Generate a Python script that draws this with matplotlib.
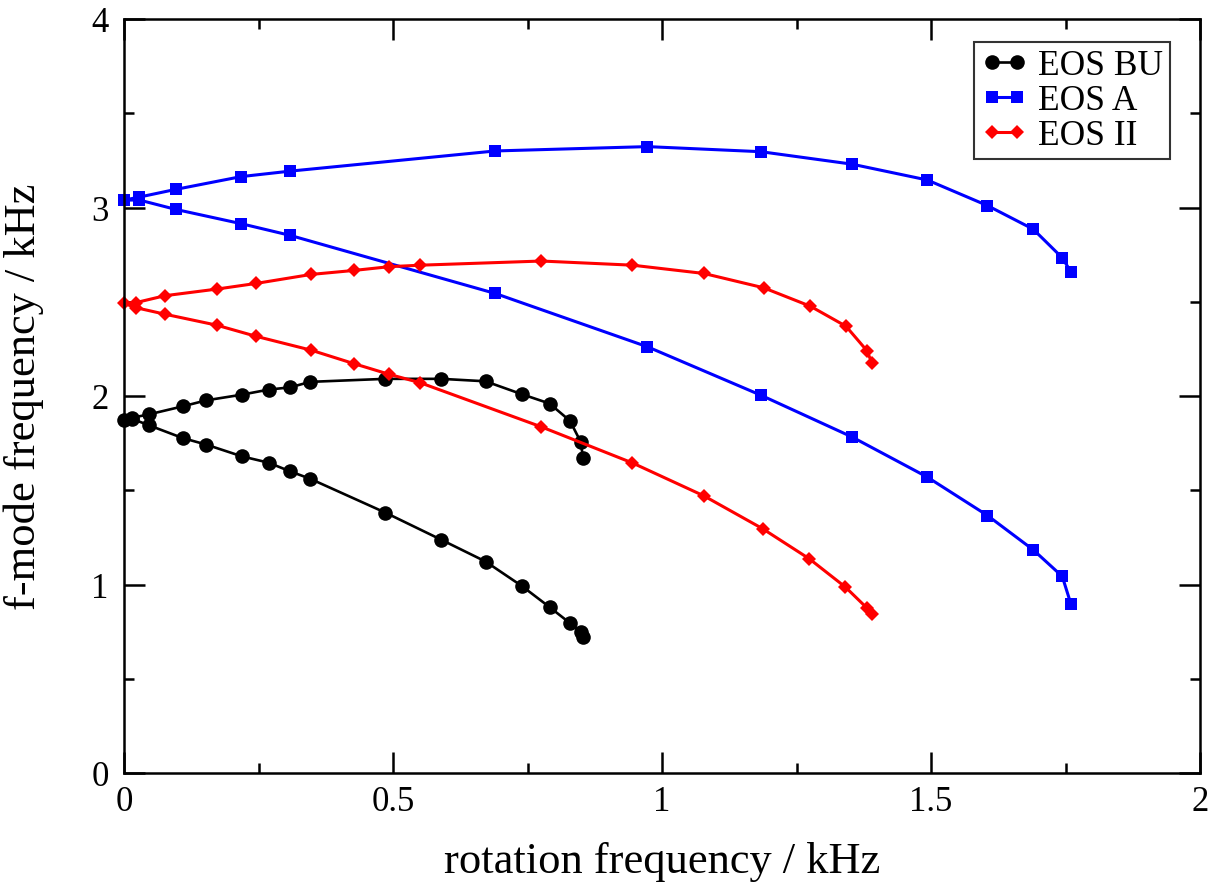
import matplotlib
matplotlib.use("Agg")
import matplotlib.pyplot as plt
import numpy as np
from matplotlib.ticker import MultipleLocator

plt.rcParams['font.family'] = ['Liberation Serif', 'DejaVu Serif']

# EOS BU (black circles)
bu_up_x = [0.0, 0.014, 0.047, 0.109, 0.153, 0.219, 0.269, 0.309, 0.346, 0.486, 0.590, 0.672, 0.740, 0.791, 0.829, 0.849, 0.853]
bu_up_y = [1.875, 1.884, 1.903, 1.945, 1.977, 2.007, 2.034, 2.046, 2.075, 2.091, 2.091, 2.078, 2.009, 1.960, 1.868, 1.756, 1.673]
bu_lo_x = [0.0, 0.014, 0.047, 0.109, 0.153, 0.219, 0.269, 0.309, 0.346, 0.486, 0.590, 0.672, 0.740, 0.791, 0.829, 0.849, 0.853]
bu_lo_y = [1.875, 1.880, 1.844, 1.777, 1.742, 1.680, 1.646, 1.600, 1.561, 1.381, 1.237, 1.122, 0.991, 0.880, 0.795, 0.747, 0.721]

# EOS A (blue squares)
a_up_x = [0.0, 0.028, 0.096, 0.218, 0.309, 0.690, 0.973, 1.184, 1.353, 1.493, 1.605, 1.690, 1.744, 1.760]
a_up_y = [3.039, 3.055, 3.096, 3.164, 3.193, 3.300, 3.323, 3.296, 3.230, 3.146, 3.010, 2.885, 2.733, 2.659]
a_lo_x = [0.0, 0.028, 0.096, 0.218, 0.309, 0.690, 0.973, 1.184, 1.353, 1.493, 1.605, 1.690, 1.744, 1.760]
a_lo_y = [3.039, 3.040, 2.990, 2.914, 2.852, 2.544, 2.261, 2.004, 1.783, 1.570, 1.366, 1.184, 1.043, 0.897]

# EOS II (red diamonds)
ii_up_x = [0.0, 0.023, 0.076, 0.172, 0.245, 0.348, 0.427, 0.493, 0.551, 0.776, 0.945, 1.078, 1.189, 1.276, 1.342, 1.381, 1.390]
ii_up_y = [2.491, 2.496, 2.532, 2.567, 2.597, 2.645, 2.666, 2.686, 2.694, 2.716, 2.694, 2.650, 2.574, 2.476, 2.370, 2.240, 2.176]
ii_lo_x = [0.0, 0.023, 0.076, 0.172, 0.245, 0.348, 0.427, 0.493, 0.551, 0.776, 0.945, 1.078, 1.187, 1.274, 1.341, 1.381, 1.390]
ii_lo_y = [2.491, 2.468, 2.434, 2.376, 2.317, 2.243, 2.172, 2.115, 2.070, 1.836, 1.645, 1.470, 1.296, 1.136, 0.986, 0.875, 0.844]

x_ticks = [0, 0.5, 1, 1.5, 2]
x_tick_labels = ["0", "0.5", "1", "1.5", "2"]
y_ticks = [0, 1, 2, 3, 4]
y_tick_labels = ["0", "1", "2", "3", "4"]

series = [
    ("EOS BU", bu_up_x, bu_up_y, bu_lo_x, bu_lo_y, "black", "o", 10.5, 1.9),
    ("EOS A", a_up_x, a_up_y, a_lo_x, a_lo_y, "#0000ff", "s", 8.5, 2.2),
    ("EOS II", ii_up_x, ii_up_y, ii_lo_x, ii_lo_y, "#ff0000", "D", 7.2, 2.2),
]

fig = plt.figure(figsize=(12.13, 8.87), dpi=100)
ax = fig.add_axes([124/1213, 1-774/887, (1200-124)/1213, (774-20)/887])

for name, ux, uy, lx, ly, c, m, ms, lw in series:
    x = np.concatenate([np.array(ux)[::-1], np.array(lx)[1:]])
    y = np.concatenate([np.array(uy)[::-1], np.array(ly)[1:]])
    ax.plot(x, y, color=c, marker=m, markersize=ms, linewidth=lw,
            markeredgewidth=0, label=name, clip_on=False)

ax.set_xlim(0, 2)
ax.set_ylim(0, 4)
ax.xaxis.set_minor_locator(MultipleLocator(0.25))
ax.yaxis.set_minor_locator(MultipleLocator(0.5))
ax.set_xticks(x_ticks)
ax.set_xticklabels(x_tick_labels)
ax.set_yticks(y_ticks)
ax.set_yticklabels(y_tick_labels)
ax.tick_params(which='both', direction='in', top=True, right=True, labelsize=25, width=1.8, colors='black')
ax.tick_params(which='major', length=15)
ax.tick_params(which='minor', length=7.5)
ax.tick_params(axis='x', which='major', pad=9)
ax.tick_params(axis='y', which='major', pad=11)
for s in ax.spines.values():
    s.set_linewidth(1.8)

ax.set_xlabel("rotation frequency / kHz", fontsize=32, labelpad=16)
ax.set_ylabel("f-mode frequency / kHz", fontsize=32, labelpad=34)

leg = ax.legend(loc='upper right', fontsize=25.5, frameon=True, fancybox=False, edgecolor='black',
                handlelength=1.33, handletextpad=0.28, labelspacing=0.06, borderpad=0.2,
                borderaxespad=0, numpoints=2)
leg.get_frame().set_linewidth(1.5)
leg.set_bbox_to_anchor((1170/1213, 1-43/887), transform=fig.transFigure)

fig.savefig("out.png", dpi=100)
